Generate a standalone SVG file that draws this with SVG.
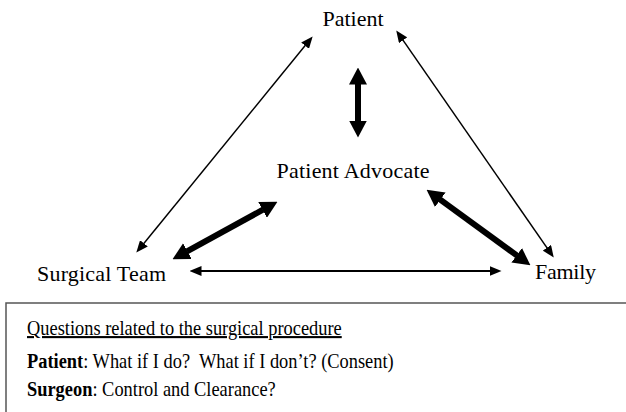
<svg xmlns="http://www.w3.org/2000/svg" width="626" height="412" viewBox="0 0 626 412">
<style>
.lbl{font-family:"Liberation Serif","Times New Roman",serif;font-size:22px;fill:#000}
.box{font-family:"Liberation Serif","Times New Roman",serif;font-size:21px;fill:#000;white-space:pre}
.b{font-weight:bold}
.thin{stroke:#000;stroke-width:1.5;fill:none;marker-start:url(#hs);marker-end:url(#hs)}
.mid{stroke:#000;stroke-width:2;fill:none;marker-start:url(#hs);marker-end:url(#hs)}
.thick{stroke:#000;stroke-width:6;fill:none;marker-start:url(#hb);marker-end:url(#hb)}
</style>
<defs>
<marker id="hs" markerUnits="userSpaceOnUse" viewBox="0 -5 12 10" refX="0.5" refY="0" markerWidth="12" markerHeight="10" orient="auto-start-reverse"><path d="M0,-5 L12,0 L0,5 Z" fill="#000"/></marker>
<marker id="hb" markerUnits="userSpaceOnUse" viewBox="0 -9 17 18" refX="0.5" refY="0" markerWidth="17" markerHeight="18" orient="auto-start-reverse"><path d="M0,-9 L17,0 L0,9 Z" fill="#000"/></marker>
</defs>
<rect width="626" height="412" fill="#fff"/>
<g id="connectors">
<line class="thin" x1="305.4" y1="45.3" x2="143.6" y2="243.7"/>
<line class="thin" x1="402.8" y1="39.9" x2="547.2" y2="248.1"/>
<line class="thick" x1="358" y1="84" x2="358" y2="121"/>
<line class="thick" x1="263" y1="209.7" x2="187" y2="251.3"/>
<line class="thick" x1="439.9" y1="199.4" x2="517.1" y2="255.6"/>
<line class="mid" x1="201" y1="271" x2="490" y2="271"/>
</g>
<g id="patient"><text class="lbl" x="353" y="26" text-anchor="middle">Patient</text></g>
<g id="advocate"><text class="lbl" x="353" y="178" text-anchor="middle" textLength="153">Patient Advocate</text></g>
<g id="surgical-team"><text class="lbl" x="37" y="281" textLength="129">Surgical Team</text></g>
<g id="family"><text class="lbl" x="535" y="279" textLength="61">Family</text></g>
<g id="questions">
<path d="M6,412 V303 H626" fill="none" stroke="#555" stroke-width="1.5"/>
<g transform="translate(27,0) scale(0.876,1)">
<text class="box" x="0" y="335" text-decoration="underline">Questions related to the surgical procedure</text>
<text class="box" x="0" y="368"><tspan class="b">Patient</tspan>: What if I do?  What if I don’t? (Consent)</text>
<text class="box" x="0" y="396"><tspan class="b">Surgeon</tspan>: Control and Clearance?</text>
</g>
</g>
</svg>
